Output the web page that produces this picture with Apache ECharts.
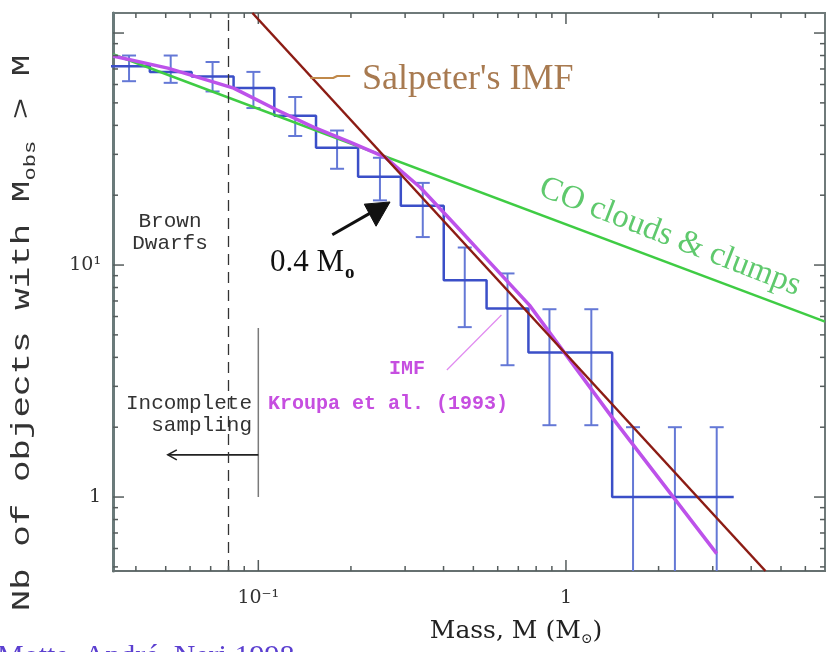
<!DOCTYPE html>
<html><head><meta charset="utf-8">
<script src="https://cdn.jsdelivr.net/npm/echarts@6/dist/echarts.min.js"></script>
<style>html,body{margin:0;padding:0;background:#fff}#chart{width:827px;height:652px}</style>
</head><body><div id="chart"></div>
<script>
// ---- axis ranges ----
const X_RANGE = [0.0337, 6.95];
const Y_RANGE = [0.48, 122];

// ---- observed cumulative histogram ----
const binEdges   = [0.0325,0.0444,0.0607,0.0831,0.1127,0.154,0.211,0.2905,0.4006,0.552,0.755,1.033,1.413,1.93,2.64,3.51];
const binCounts  = [72,68,65,58,44,32,24,18,8.6,6.5,4.2,4.2,1,1,1];
const binCentres = [0.038,0.0519,0.071,0.0964,0.1318,0.1803,0.2485,0.3424,0.4688,0.6456,0.8837,1.209,1.652,2.26,3.09];
const errUpper   = [80,80,75,68,53,38,29,22.6,11.9,9.2,6.45,6.45,2,2,2];
const errLower   = [62,61,56,47.5,36,26,19,13.2,5.4,3.7,2.04,2.04,0,0,0];

// ---- model curves ----
const kroupaMass  = [0.0337,0.0508,0.0831,0.115,0.151,0.1987,0.258,0.3349,0.4347,0.5644,0.7606,1.41,3.09];
const kroupaCount = [79.6,70.6,57.9,46.6,39.3,33.9,29.2,21.7,15.0,10.3,6.72,2.21,0.57];
const salpeterMass  = [0.0957, 4.45];
const salpeterCount = [122, 0.48];
const cloudMass  = [0.0337, 6.95];
const cloudCount = [81, 5.7];

// ---- annotations (data coordinates) ----
const brownDwarfLimit = 0.08;
const samplingLimitMass = [0.1, 0.1];
const samplingLimitCount = [5.35, 1.0];
const samplingArrowMass = [0.1, 0.0508];
const samplingArrowCount = [1.52, 1.52];
const massArrowMass = [0.174, 0.234];
const massArrowCount = [13.5, 16.9];
const massArrowHeadMass = [0.221, 0.268, 0.2414];
const massArrowHeadCount = [18.3, 18.7, 14.7];
const salpeterLeaderMass = [0.1476, 0.175, 0.1805, 0.1988];
const salpeterLeaderCount = [64, 64, 65.3, 65.3];
const kroupaLeaderMass = [0.41, 0.617];
const kroupaLeaderCount = [3.53, 6.09];

// ---- ticks & labels ----
const xMajorTicks = [0.1, 1];
const xMinorTicks = [0.04,0.05,0.06,0.07,0.08,0.09,0.2,0.3,0.4,0.5,0.6,0.7,0.8,0.9,2,3,4,5,6];
const yMajorTicks = [1, 10, 100];
const yMinorTicks = [0.5,0.6,0.7,0.8,0.9,2,3,4,5,6,7,8,9,20,30,40,50,60,70,80,90];
const xLabelValues = [0.1, 1];
const xLabelTexts  = ['10⁻¹', '1'];
const yLabelValues = [1, 10];
const yLabelTexts  = ['1', '10¹'];

const zip = (a, b) => a.map((v, i) => [v, b[i]]);
const stepPts = [];
binCounts.forEach((c, i) => { stepPts.push([binEdges[i], c], [binEdges[i + 1], c]); });
const labelFor = (vals, texts) => v => {
  const i = vals.findIndex(t => Math.abs(Math.log10(v) - Math.log10(t)) < 1e-6);
  return i >= 0 ? texts[i] : '';
};

const AXIS_COL = '#555c5c';
function xTickSeries(values, len) {
  return {
    type: 'custom', silent: true, z: 6,
    data: values.map(v => [v, 1]), encode: {x: 0, y: 1},
    renderItem(params, api) {
      const cs = params.coordSys;
      const x = api.coord([api.value(0), 1])[0];
      const yb = cs.y + cs.height, yt = cs.y;
      return {type: 'group', children: [
        {type: 'line', shape: {x1: x, y1: yb, x2: x, y2: yb - len}, style: {stroke: AXIS_COL, lineWidth: 1.5}},
        {type: 'line', shape: {x1: x, y1: yt, x2: x, y2: yt + len}, style: {stroke: AXIS_COL, lineWidth: 1.5}}
      ]};
    }
  };
}
function yTickSeries(values, len) {
  return {
    type: 'custom', silent: true, z: 6,
    data: values.map(v => [1, v]), encode: {x: 0, y: 1},
    renderItem(params, api) {
      const cs = params.coordSys;
      const y = api.coord([1, api.value(1)])[1];
      const xl = cs.x, xr = cs.x + cs.width;
      return {type: 'group', children: [
        {type: 'line', shape: {x1: xl, y1: y, x2: xl + len, y2: y}, style: {stroke: AXIS_COL, lineWidth: 1.5}},
        {type: 'line', shape: {x1: xr, y1: y, x2: xr - len, y2: y}, style: {stroke: AXIS_COL, lineWidth: 1.5}}
      ]};
    }
  };
}

const ERR_COL = '#6478d6';
const option = {
  backgroundColor: '#ffffff',
  animation: false,
  grid: {left: 113, right: 2, top: 13, bottom: 81, show: true, borderColor: '#6f7a7a', borderWidth: 2, backgroundColor: 'transparent'},
  xAxis: {
    type: 'log', logBase: 10, min: X_RANGE[0], max: X_RANGE[1],
    axisLine: {show: true, lineStyle: {color: '#667070', width: 2}},
    axisTick: {show: false}, splitLine: {show: false}, minorTick: {show: false},
    axisLabel: {show: true, margin: 18, formatter: labelFor(xLabelValues, xLabelTexts),
      fontFamily: 'DejaVu Serif', fontSize: 19, color: '#333', showMinLabel: false, showMaxLabel: false}
  },
  yAxis: {
    type: 'log', logBase: 10, min: Y_RANGE[0], max: Y_RANGE[1],
    axisLine: {show: true, lineStyle: {color: '#6a7a7a', width: 3}},
    axisTick: {show: false}, splitLine: {show: false}, minorTick: {show: false},
    axisLabel: {show: true, margin: 12, formatter: labelFor(yLabelValues, yLabelTexts),
      fontFamily: 'DejaVu Serif', fontSize: 19, color: '#333', showMinLabel: false, showMaxLabel: false}
  },
  series: [
    xTickSeries(xMinorTicks, 5), xTickSeries(xMajorTicks, 11),
    yTickSeries(yMinorTicks, 5), yTickSeries(yMajorTicks, 11),
    { // incomplete sampling limit + brown dwarf limit
      type: 'line', data: zip(samplingLimitMass, samplingLimitCount), showSymbol: false, z: 3,
      lineStyle: {color: '#7a7a7a', width: 1.5},
      markLine: {silent: true, symbol: 'none', label: {show: false},
        lineStyle: {color: '#333', width: 1.3, type: [11, 7]}, data: [{xAxis: brownDwarfLimit}]}
    },
    { // sampling arrow
      type: 'custom', silent: true, z: 4,
      data: [[samplingArrowMass[0], samplingArrowCount[0], samplingArrowMass[1], samplingArrowCount[1]]],
      encode: {x: [0, 2], y: [1, 3]},
      renderItem(params, api) {
        const p1 = api.coord([api.value(0), api.value(1)]);
        const p2 = api.coord([api.value(2), api.value(3)]);
        return {type: 'group', children: [
          {type: 'line', shape: {x1: p1[0], y1: p1[1], x2: p2[0], y2: p2[1]}, style: {stroke: '#222', lineWidth: 1.6}},
          {type: 'polyline', shape: {points: [[p2[0] + 9, p2[1] - 5], [p2[0], p2[1]], [p2[0] + 9, p2[1] + 5]]}, style: {stroke: '#222', lineWidth: 1.6, fill: null}}
        ]};
      }
    },
    { // error bars
      type: 'custom', silent: true, z: 2,
      data: binCentres.map((m, i) => [m, errLower[i], errUpper[i]]),
      encode: {x: 0, y: [1, 2]},
      renderItem(params, api) {
        const cs = params.coordSys;
        const m = api.value(0), lo = api.value(1), hi = api.value(2);
        const top = api.coord([m, hi]);
        const x = top[0];
        const yb = lo > 0 ? api.coord([m, lo])[1] : cs.y + cs.height;
        const ch = [
          {type: 'line', shape: {x1: x, y1: top[1], x2: x, y2: yb}, style: {stroke: ERR_COL, lineWidth: 2}},
          {type: 'line', shape: {x1: x - 7, y1: top[1], x2: x + 7, y2: top[1]}, style: {stroke: ERR_COL, lineWidth: 2}}
        ];
        if (lo > 0) ch.push({type: 'line', shape: {x1: x - 7, y1: yb, x2: x + 7, y2: yb}, style: {stroke: ERR_COL, lineWidth: 2}});
        return {type: 'group', children: ch};
      }
    },
    { // observed histogram
      type: 'line', data: stepPts, showSymbol: false, z: 3,
      lineStyle: {color: '#3b4fc8', width: 2.5}
    },
    { // CO clouds & clumps
      type: 'line', data: zip(cloudMass, cloudCount), showSymbol: false, z: 4,
      lineStyle: {color: '#3fcc44', width: 2.5}
    },
    { // Kroupa IMF
      type: 'line', data: zip(kroupaMass, kroupaCount), showSymbol: false, smooth: false, z: 5,
      lineStyle: {color: '#bd52ea', width: 3.5, join: 'round'}
    },
    { // Kroupa leader
      type: 'line', data: zip(kroupaLeaderMass, kroupaLeaderCount), showSymbol: false, z: 5,
      lineStyle: {color: '#e08af0', width: 1.2}
    },
    { // Salpeter
      type: 'line', data: zip(salpeterMass, salpeterCount), showSymbol: false, z: 6,
      lineStyle: {color: '#8c1c14', width: 2.5}
    },
    { // Salpeter leader
      type: 'line', data: zip(salpeterLeaderMass, salpeterLeaderCount), showSymbol: false, z: 6,
      lineStyle: {color: '#c0894a', width: 2}
    },
    { // 0.4 Msun arrow shaft
      type: 'line', data: zip(massArrowMass, massArrowCount), showSymbol: false, z: 7,
      lineStyle: {color: '#111', width: 3}
    },
    { // 0.4 Msun arrow head
      type: 'custom', silent: true, z: 7,
      data: zip(massArrowHeadMass, massArrowHeadCount), encode: {x: 0, y: 1},
      renderItem(params, api) {
        if (params.dataIndex !== 0) return null;
        const pts = massArrowHeadMass.map((m, i) => api.coord([m, massArrowHeadCount[i]]));
        return {type: 'polygon', shape: {points: pts}, style: {fill: '#111', stroke: '#111', lineWidth: 1}};
      }
    }
  ],
  graphic: [
    {type: 'text', x: 362, y: 80, z: 100, style: {text: "Salpeter's IMF", font: '36px "Liberation Serif"', fill: '#a87a50', align: 'left', verticalAlign: 'middle', textAlign: 'left', textVerticalAlign: 'middle'}},
    {type: 'text', x: 670, y: 237, rotation: -0.37, z: 100, style: {text: 'CO clouds & clumps', font: '33px "Liberation Serif"', fill: '#5fc96d', align: 'center', verticalAlign: 'middle', textAlign: 'center', textVerticalAlign: 'middle'}},
    {type: 'text', x: 170, y: 221, z: 100, style: {text: 'Brown', font: '21px "Liberation Mono"', fill: '#333', align: 'center', verticalAlign: 'middle', textAlign: 'center', textVerticalAlign: 'middle'}},
    {type: 'text', x: 170, y: 243, z: 100, style: {text: 'Dwarfs', font: '21px "Liberation Mono"', fill: '#333', align: 'center', verticalAlign: 'middle', textAlign: 'center', textVerticalAlign: 'middle'}},
    {type: 'text', x: 252, y: 403, z: 100, style: {text: 'Incomplete', font: '21px "Liberation Mono"', fill: '#333', align: 'right', verticalAlign: 'middle', textAlign: 'right', textVerticalAlign: 'middle'}},
    {type: 'text', x: 252, y: 425, z: 100, style: {text: 'sampling', font: '21px "Liberation Mono"', fill: '#333', align: 'right', verticalAlign: 'middle', textAlign: 'right', textVerticalAlign: 'middle'}},
    {type: 'text', x: 407, y: 369, z: 100, style: {text: 'IMF', font: 'bold 20px "Liberation Mono"', fill: '#c64ee0', align: 'center', verticalAlign: 'middle', textAlign: 'center', textVerticalAlign: 'middle'}},
    {type: 'text', x: 388, y: 404, z: 100, style: {text: 'Kroupa et al. (1993)', font: 'bold 20px "Liberation Mono"', fill: '#c64ee0', align: 'center', verticalAlign: 'middle', textAlign: 'center', textVerticalAlign: 'middle'}},
    {type: 'text', x: 270, y: 263, z: 100, style: {text: '{m|0.4 M}{s|o}', font: '31px "Liberation Serif"', fill: '#111', align: 'left', verticalAlign: 'middle', textAlign: 'left', textVerticalAlign: 'middle',
      rich: {m: {fontSize: 31, fontFamily: 'Liberation Serif', fill: '#111', color: '#111', lineHeight: 31, verticalAlign: 'top'},
             s: {fontSize: 19, fontFamily: 'Liberation Serif', fontWeight: 'bold', fill: '#111', color: '#111', lineHeight: 19, padding: [16, 0, 0, 1], verticalAlign: 'top'}}}},
    {type: 'text', x: 516, y: 632, z: 100, style: {text: '{m|Mass, M (M}{s|⊙}{m|)}', font: '25px "DejaVu Serif"', fill: '#222', align: 'center', verticalAlign: 'middle', textAlign: 'center', textVerticalAlign: 'middle',
      rich: {m: {fontSize: 25, fontFamily: 'DejaVu Serif', fill: '#222', color: '#222', lineHeight: 27, verticalAlign: 'top'},
             s: {fontSize: 14, fontFamily: 'DejaVu Serif', fill: '#222', color: '#222', lineHeight: 14, padding: [14, 0, 0, 0], verticalAlign: 'top'}}}},
    {type: 'text', x: 22, y: 333, rotation: Math.PI / 2, scaleX: 1.38, z: 100, style: {text: '{m|Nb of objects with M}{s|obs}{m| > M}', font: '26px "Liberation Mono"', fill: '#333', align: 'center', verticalAlign: 'middle', textAlign: 'center', textVerticalAlign: 'middle',
      rich: {m: {fontSize: 26, fontFamily: 'Liberation Mono', fill: '#333', color: '#333', lineHeight: 26, verticalAlign: 'top'},
             s: {fontSize: 16, fontFamily: 'Liberation Mono', fill: '#333', color: '#333', lineHeight: 16, padding: [14, 0, 0, 0], verticalAlign: 'top'}}}},
    {type: 'text', x: -3, y: 657, z: 100, style: {text: 'Motte, André, Neri 1998', font: '30px "Liberation Serif"', fill: '#5b3fd0', align: 'left', verticalAlign: 'middle', textAlign: 'left', textVerticalAlign: 'middle'}}
  ]
};
const chart = echarts.init(document.getElementById('chart'), null, {renderer: 'canvas'});
chart.setOption(option);
</script>
</body></html>
